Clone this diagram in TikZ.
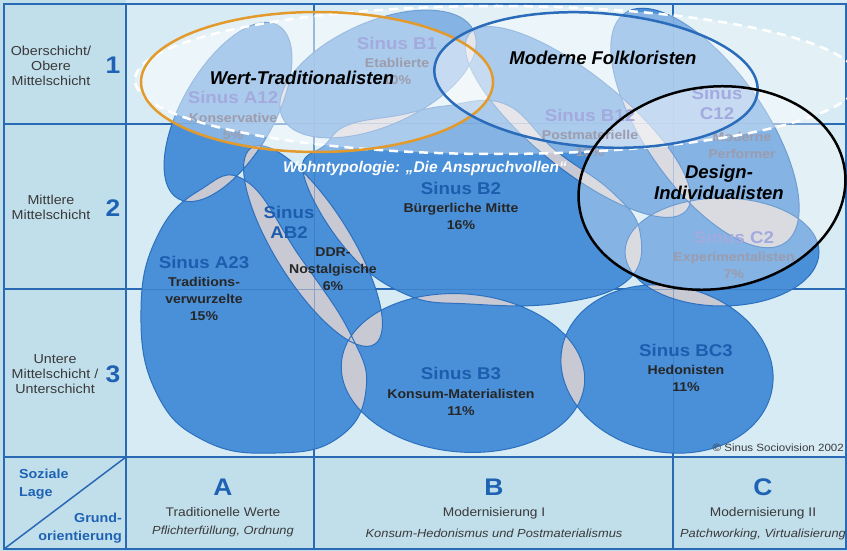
\documentclass[tikz,border=0pt]{standalone}
\usepackage{fontspec}
\setmainfont{Liberation Sans}[FakeStretch=1.1]
\newfontfamily\plainsans{Liberation Sans}
\usetikzlibrary{positioning}

\definecolor{mainbg}{HTML}{D6EBF4}
\definecolor{cellbg}{HTML}{C1DEEB}
\definecolor{gridblue}{HTML}{2A6AB4}
\definecolor{blobblue}{HTML}{4A90D8}
\definecolor{blobedge}{HTML}{2C70BE}
\definecolor{olapgrey}{HTML}{C9C9D3}
\definecolor{numblue}{HTML}{1E62B4}
\definecolor{sinusblue}{HTML}{1C5DAE}
\definecolor{txtgrey}{HTML}{3A3A3A}
\definecolor{txtdark}{HTML}{262626}
\definecolor{fadeblue}{HTML}{A3AADE}
\definecolor{fadegrey}{HTML}{9C9CAC}
\definecolor{orangeline}{HTML}{E39A2D}
\definecolor{folkblue}{HTML}{2A6CBA}

% blob outlines (Sinus-Milieus)
\def\blobKon{(228,112) circle[x radius=100pt, y radius=46pt, rotate=60]}
\def\blobEta{(378,74) circle[x radius=105pt, y radius=52pt, rotate=24]}
\def\blobPos{(578,122) circle[x radius=140pt, y radius=47pt, rotate=-39]}
\def\blobPer{(705,128) circle[x radius=140pt, y radius=60pt, rotate=-55]}
\def\blobBue{plot[smooth cycle, tension=0.7] coordinates {(303,172) (325,145) (348,125) (400,115) (445,106)
  (505,104) (555,150) (612,192) (640,232) (628,280) (560,303) (470,304) (405,294) (345,248)}}
\def\blobDdr{(313,246) circle[x radius=116pt, y radius=38pt, rotate=-58]}
\def\blobTra{plot[smooth cycle, tension=0.75] coordinates {(141,310) (158,235) (200,190) (246,181) (298,254)
  (350,333) (366,390) (338,438) (276,453) (205,441) (156,392)}}
\def\blobKom{(463,373) circle[x radius=122pt, y radius=79pt, rotate=-5]}
\def\blobHed{(667,369) circle[x radius=107pt, y radius=83pt, rotate=-12]}
\def\blobExp{(722,252) circle[x radius=97pt, y radius=54pt]}

\begin{document}
\begin{tikzpicture}[x=1pt, y=-1pt,
  grid/.style={draw=gridblue, line width=2pt},
  thingrid/.style={draw=gridblue, line width=1pt, draw opacity=0.4},
  blob/.style={fill=blobblue},
  blobline/.style={draw=blobedge, line width=1pt},
  olap/.style={fill=olapgrey},
  veil/.style={fill=white, fill opacity=0.32},
  rowlbl/.style={font=\fontsize{13}{15}\selectfont, text=txtgrey, align=center, inner sep=0pt},
  rownum/.style={font=\fontsize{24}{24}\selectfont\bfseries, text=numblue, inner sep=0pt},
  lagelbl/.style={font=\fontsize{13}{18.5}\selectfont\bfseries, text=numblue, inner sep=0pt},
  colname/.style={font=\fontsize{12.5}{15}\selectfont, text=txtgrey, inner sep=0pt},
  colsub/.style={font=\fontsize{11.7}{14}\selectfont\itshape, text=txtgrey, inner sep=0pt},
  sinus/.style={font=\fontsize{17}{20}\selectfont\bfseries, text=sinusblue, align=center, inner sep=0pt},
  milieu/.style={font=\fontsize{12.8}{17}\selectfont\bfseries, text=txtdark, align=center, inner sep=0pt},
  sinusfade/.style={sinus, text=fadeblue},
  milieufade/.style={milieu, text=fadegrey},
  typo/.style={font=\plainsans\fontsize{18.5}{21}\selectfont\bfseries\itshape, text=black, align=center, inner sep=0pt},
  wohn/.style={font=\plainsans\fontsize{15.5}{18}\selectfont\bfseries\itshape, text=white, inner sep=0pt}]
  \useasboundingbox (0,0) rectangle (847,551);
  % background cells
  \fill[mainbg] (0,0) rectangle (847,551);
  \fill[cellbg] (0,0) rectangle (126,551);
  \fill[cellbg] (126,457) rectangle (847,551);
  \draw[grid] (126,124) -- (847,124) (126,289) -- (847,289) (314,4) -- (314,457) (673,4) -- (673,457);

  % milieus
  \fill[blob] \blobKon \blobEta \blobPos \blobPer \blobBue \blobDdr \blobTra \blobKom \blobHed \blobExp;
  \foreach \p/\q in {Kon/Eta, Kon/Tra, Kon/Ddr, Kon/Bue, Eta/Bue, Eta/Pos, Eta/Ddr, Eta/Per,
      Pos/Per, Pos/Bue, Pos/Exp, Per/Bue, Per/Exp, Per/Hed, Ddr/Tra, Ddr/Bue, Ddr/Kom,
      Tra/Kom, Tra/Bue, Bue/Kom, Bue/Hed, Bue/Exp, Kom/Hed, Hed/Exp} {
    \begin{scope}
      \clip \csname blob\p\endcsname;
      \fill[olap] \csname blob\q\endcsname;
    \end{scope}
  }
  \draw[blobline] \blobKon \blobEta \blobPos \blobPer \blobBue \blobDdr \blobTra \blobKom \blobHed \blobExp;
  \draw[thingrid] (126,124) -- (847,124) (126,289) -- (847,289) (314,4) -- (314,457) (673,4) -- (673,457);

  \node[sinus] (tra) at (204,262) {Sinus A23};
  \node[milieu, below=9pt of tra] (trat) {Traditions-\\verwurzelte\\15\%};
  \node[sinus] (ddr) at (289,222) {Sinus\\AB2};
  \node[milieu] (ddrt) at (333,269) {DDR-\\Nostalgische\\6\%};
  \node[sinus] (bue) at (461,188) {Sinus B2};
  \node[milieu, below=9pt of bue] (buet) {Bürgerliche Mitte\\16\%};
  \node[sinus] (kom) at (461,373) {Sinus B3};
  \node[milieu, below=10pt of kom] (komt) {Konsum-Materialisten\\11\%};
  \node[sinus] (hed) at (686,350) {Sinus BC3};
  \node[milieu, below=9pt of hed] (hedt) {Hedonisten\\11\%};

  % highlighted types
  \fill[veil] (497,80) circle[x radius=362pt, y radius=74pt];
  \fill[veil] (317,82) circle[x radius=176pt, y radius=70pt];
  \fill[veil] (596,80) circle[x radius=162pt, y radius=67pt, rotate=-4];
  \fill[veil] (712,188) circle[x radius=134pt, y radius=101pt, rotate=8];

  \node[sinusfade] (kon) at (233,97) {Sinus A12};
  \node[milieufade, below=10pt of kon] (kont) {Konservative\\5\%};
  \node[sinusfade] (eta) at (397,43) {Sinus B1};
  \node[milieufade, below=9pt of eta] (etat) {Etablierte\\10\%};
  \node[sinusfade] (pos) at (590,115) {Sinus B12};
  \node[milieufade, below=9pt of pos] (post) {Postmaterielle\\10\%};
  \node[sinusfade] (per) at (717,103) {Sinus\\C12};
  \node[milieufade] (pert) at (742,145) {Moderne\\Performer};
  \node[sinusfade] (exp) at (734,237) {Sinus C2};
  \node[milieufade, below=9pt of exp] (expt) {Experimentalisten\\7\%};

  % frame
  \draw[grid] (4,4) rectangle (846,549);
  \draw[grid] (126,4) -- (126,549) (4,124) -- (126,124) (4,289) -- (126,289)
    (4,457) -- (846,457) (314,457) -- (314,549) (673,457) -- (673,549);
  \draw[gridblue, line width=1.5pt] (4,549) -- (126,457);

  \draw[white, line width=2.5pt, dash pattern=on 9pt off 6pt] (497,80) circle[x radius=362pt, y radius=74pt];
  \draw[orangeline, line width=2.5pt] (317,82) circle[x radius=176pt, y radius=70pt];
  \draw[folkblue, line width=2.5pt] (596,80) circle[x radius=162pt, y radius=67pt, rotate=-4];
  \draw[black, line width=2.5pt] (712,188) circle[x radius=134pt, y radius=101pt, rotate=8];

  \node[typo] (wert) at (302,78) {Wert-Traditionalisten};
  \node[typo] (folk) at (603,58) {Moderne Folkloristen};
  \node[typo] (design) at (719,182) {Design-\\Individualisten};
  \node[wohn] (anspr) at (425,168) {Wohntypologie: „Die Anspruchvollen“};

  % axes
  \node[rowlbl] (obs) at (51,66) {Oberschicht/\\Obere\\Mittelschicht};
  \node[rownum] (one) at (113,65) {1};
  \node[rowlbl] (mms) at (51,207) {Mittlere\\Mittelschicht};
  \node[rownum] (two) at (113,208) {2};
  \node[rowlbl] (ums) at (55,374) {Untere\\Mittelschicht /\\Unterschicht};
  \node[rownum] (three) at (113,374) {3};
  \node[lagelbl, anchor=west, align=left] (lage) at (19,484) {Soziale\\Lage};
  \node[lagelbl, anchor=east, align=right] (grund) at (122,528) {Grund-\\orientierung};

  \node[rownum] (ca) at (223,487) {A};
  \node[colname, below=12pt of ca] (cat) {Traditionelle Werte};
  \node[colsub, below=9pt of cat] (cas) {Pflichterfüllung, Ordnung};
  \node[rownum] (cb) at (494,487) {B};
  \node[colname, below=12pt of cb] (cbt) {Modernisierung I};
  \node[colsub, below=9pt of cbt] (cbs) {Konsum-Hedonismus und Postmaterialismus};
  \node[rownum] (cc) at (763,487) {C};
  \node[colname, below=12pt of cc] (cct) {Modernisierung II};
  \node[colsub, below=9pt of cct] (ccs) {Patchworking, Virtualisierung};

  \node[font=\fontsize{10.5}{12}\selectfont, text=txtgrey, anchor=east, inner sep=0pt] (copy) at (844,448) {© Sinus Sociovision 2002};
\end{tikzpicture}
\end{document}
